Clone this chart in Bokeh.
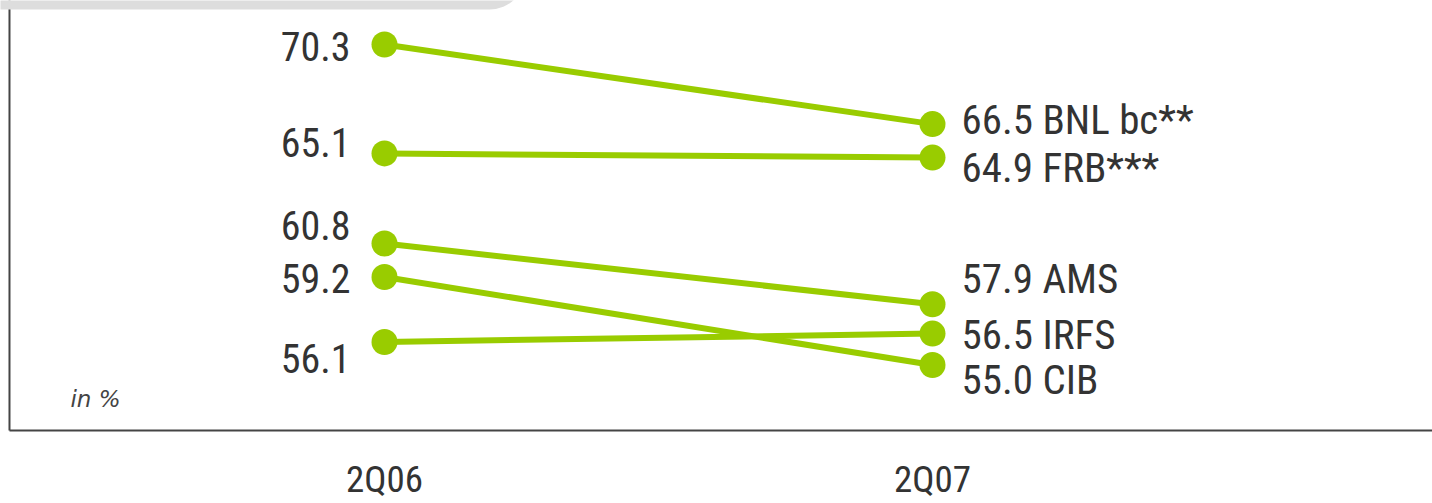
from bokeh.plotting import figure
from bokeh.models import Range1d, BoxAnnotation, ColumnDataSource
from bokeh.core.properties import value
from bokeh.embed import file_html
from bokeh.resources import INLINE

# Cost/income ratio by business unit, in %
periods = ["2Q06", "2Q07"]
segments = ["BNL bc**", "FRB***", "AMS", "CIB", "IRFS"]
ratio_2q06 = [70.3, 65.1, 60.8, 59.2, 56.1]
ratio_2q07 = [66.5, 64.9, 57.9, 55.0, 56.5]

# vertical nudges for the value labels, in screen pixels (positive = down)
left_nudge = [2, -11, -18, 1, 17]
right_nudge = [-4, 10, -25, 15, 1]

GREEN = "#99cc00"
INK = "#333333"
NARROW = value("Roboto Condensed")

x_pos = list(range(len(periods)))

src = ColumnDataSource(dict(
    x0=[x_pos[0]] * len(segments),
    x1=[x_pos[1]] * len(segments),
    y0=ratio_2q06,
    y1=ratio_2q07,
    left_text=[f"{v:.1f}" for v in ratio_2q06],
    right_text=[f"{v:.1f} {s}" for v, s in zip(ratio_2q07, segments)],
    left_dy=left_nudge,
    right_dy=right_nudge,
))

x_range = Range1d(-0.7007, 1.9124)
y_range = Range1d(48.39, 72.40)

p = figure(width=1432, height=503, x_range=x_range, y_range=y_range,
           output_backend="svg", toolbar_location=None,
           x_axis_location=None, y_axis_location=None,
           min_border=0, outline_line_color=None)
p.grid.visible = False
p.background_fill_color = "white"
p.border_fill_color = "white"

# axis frame: left edge and baseline
frame_x = -0.6843
frame_y = 51.88
p.segment(x0=[frame_x, frame_x], y0=[frame_y, frame_y],
          x1=[frame_x, x_range.end], y1=[y_range.end, frame_y],
          line_color="#444444", line_width=2)

# slope lines and end points
p.segment(x0="x0", y0="y0", x1="x1", y1="y1", source=src,
          line_color=GREEN, line_width=6)
p.scatter(x="x0", y="y0", source=src, size=26, fill_color=GREEN, line_color=None)
p.scatter(x="x1", y="y1", source=src, size=26, fill_color=GREEN, line_color=None)

# value labels
p.text(x="x0", y="y0", text="left_text", source=src, x_offset=-34, y_offset="left_dy",
       text_align="right", text_baseline="middle", text_font=NARROW,
       text_font_size="40px", text_color=INK)
p.text(x="x1", y="y1", text="right_text", source=src, x_offset=29, y_offset="right_dy",
       text_align="left", text_baseline="middle", text_font=NARROW,
       text_font_size="41px", text_color=INK)

# period labels under the baseline
p.text(x=x_pos, y=[49.52] * len(periods), text=periods,
       text_align="center", text_baseline="middle", text_font=NARROW,
       text_font_size="37px", text_color=INK)

# unit note
p.text(x=[-0.573], y=[53.40], text=["in %"], text_align="left", text_baseline="middle",
       text_font=value("DejaVu Sans"), text_font_style="italic",
       text_font_size="23px", text_color="#444444")

# header tab
p.add_layout(BoxAnnotation(left=-1.0, right=0.2573, bottom=71.97, top=80.0,
                           fill_color="#dddddd", fill_alpha=1.0, line_color=None,
                           border_radius=36))

open("out.html", "w").write(file_html(p, INLINE))
